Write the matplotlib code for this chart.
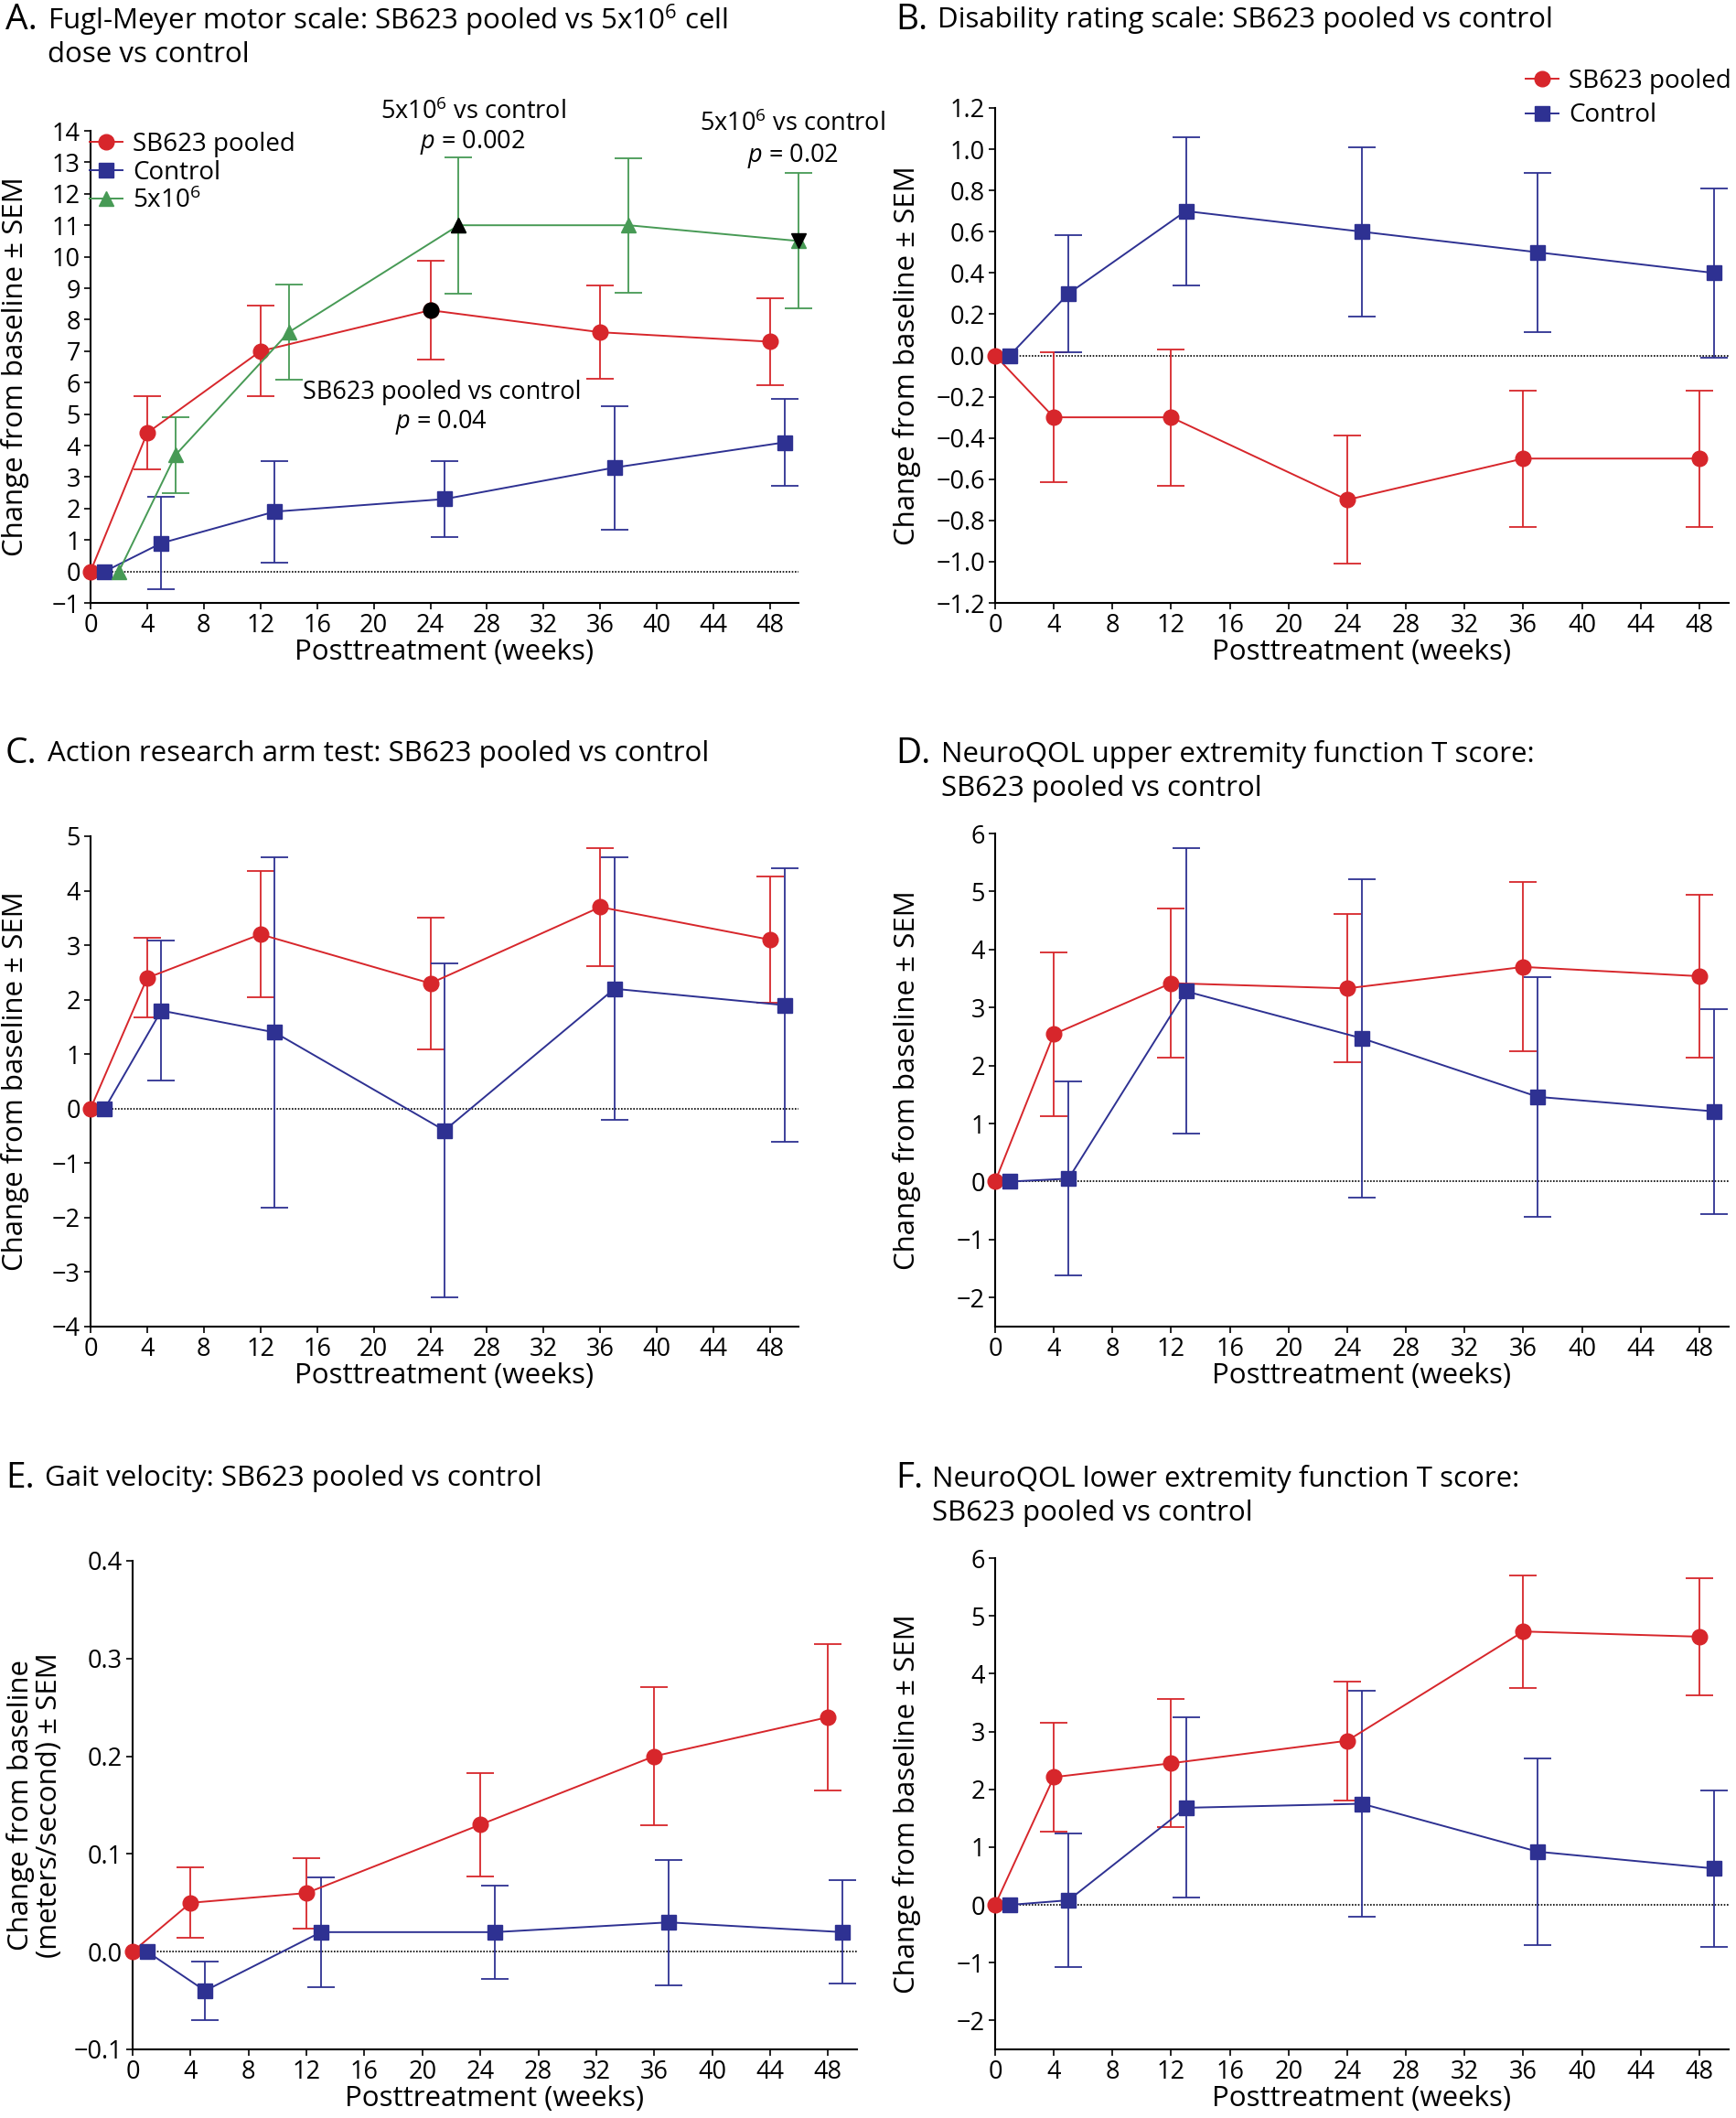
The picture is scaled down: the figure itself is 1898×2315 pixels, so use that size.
import matplotlib
matplotlib.use("Agg")
import matplotlib.pyplot as plt
import numpy as np

plt.rcParams['font.family'] = ['Open Sans', 'DejaVu Sans']
plt.rcParams['mathtext.fontset'] = 'custom'
plt.rcParams['mathtext.rm'] = 'Open Sans'
plt.rcParams['mathtext.it'] = 'Open Sans:italic'

RED = '#d7262b'
BLUE = '#2e3192'
GREEN = '#479a55'

# weeks (control and 5x10^6 are drawn slightly offset)
weeks_sb = [0, 4, 12, 24, 36, 48]
weeks_ctrl = [1, 5, 13, 25, 37, 49]
weeks_5x = [2, 6, 14, 26, 38, 50]

# A. Fugl-Meyer
fm_sb = [0, 4.4, 7.0, 8.3, 7.6, 7.3]
fm_sb_sem = [0, 1.16, 1.44, 1.56, 1.48, 1.39]
fm_ctrl = [0, 0.9, 1.9, 2.3, 3.3, 4.1]
fm_ctrl_sem = [0, 1.47, 1.62, 1.21, 1.96, 1.37]
fm_5x = [0, 3.7, 7.6, 11.0, 11.0, 10.5]
fm_5x_sem = [0, 1.2, 1.52, 2.17, 2.14, 2.15]

# B. Disability rating scale
drs_sb = [0, -0.3, -0.3, -0.7, -0.5, -0.5]
drs_sb_sem = [0, 0.315, 0.33, 0.31, 0.33, 0.33]
drs_ctrl = [0, 0.3, 0.7, 0.6, 0.5, 0.4]
drs_ctrl_sem = [0, 0.285, 0.36, 0.41, 0.385, 0.41]
drs_ticks = [-1.2, -1.0, -0.8, -0.6, -0.4, -0.2, 0.0, 0.2, 0.4, 0.6, 0.8, 1.0, 1.2]

# C. Action research arm test
arat_sb = [0, 2.4, 3.2, 2.3, 3.7, 3.1]
arat_sb_sem = [0, 0.73, 1.16, 1.21, 1.08, 1.16]
arat_ctrl = [0, 1.8, 1.4, -0.4, 2.2, 1.9]
arat_ctrl_sem = [0, 1.28, 3.21, 3.07, 2.41, 2.51]

# D. NeuroQOL upper extremity
ue_sb = [0, 2.54, 3.42, 3.33, 3.70, 3.54]
ue_sb_sem = [0, 1.41, 1.29, 1.28, 1.46, 1.41]
ue_ctrl = [0, 0.05, 3.28, 2.47, 1.46, 1.21]
ue_ctrl_sem = [0, 1.67, 2.46, 2.74, 2.07, 1.77]

# E. Gait velocity
gv_sb = [0, 0.05, 0.06, 0.13, 0.20, 0.24]
gv_sb_sem = [0, 0.036, 0.036, 0.053, 0.071, 0.075]
gv_ctrl = [0, -0.04, 0.02, 0.02, 0.03, 0.02]
gv_ctrl_sem = [0, 0.0296, 0.056, 0.048, 0.064, 0.053]
gv_ticks = [-0.1, 0.0, 0.1, 0.2, 0.3, 0.4]

# F. NeuroQOL lower extremity
le_sb = [0, 2.21, 2.45, 2.84, 4.73, 4.64]
le_sb_sem = [0, 0.94, 1.105, 1.03, 0.97, 1.01]
le_ctrl = [0, 0.08, 1.68, 1.75, 0.92, 0.63]
le_ctrl_sem = [0, 1.16, 1.56, 1.95, 1.61, 1.35]

W, H = 1899, 2315
fig = plt.figure(figsize=(W / 100, H / 100), dpi=100)
LAB = 22.5
TICK = 19.5


def px_axes(l, t, r, b):
    return fig.add_axes([l / W, 1 - b / H, (r - l) / W, (b - t) / H])


def series(ax, x, y, sem, color, marker, ms=12):
    x = np.array(x)
    y = np.array(y)
    sem = np.array(sem)
    m = sem > 0
    eb = ax.errorbar(x[m], y[m], yerr=sem[m], fmt='none', ecolor=color,
                     elinewidth=1.3, capsize=11, capthick=1.3, zorder=2)
    for art in eb.lines[1] + eb.lines[2]:
        art.set_clip_on(False)
    line, = ax.plot(x, y, '-', color=color, lw=1.4, marker=marker,
                    ms=ms, mec=color, mfc=color, zorder=3, clip_on=False)
    return line


def style(ax, ylim, yticks, ylabel, fmt=None, label_x=-0.087):
    ax.set_xlim(0, 50)
    ax.set_ylim(*ylim)
    ax.set_xticks(range(0, 49, 4))
    ax.set_yticks(yticks)
    if fmt:
        ax.set_yticklabels([fmt.format(v + 0.0).replace('-', '\u2212') for v in yticks])
    for s in ['top', 'right']:
        ax.spines[s].set_visible(False)
    for s in ['left', 'bottom']:
        ax.spines[s].set_linewidth(1.5)
    ax.tick_params(direction='out', length=5, width=1.2, labelsize=TICK, pad=3)
    ax.axhline(0, color='black', ls=(0, (1, 1)), lw=1.2, zorder=1)
    ax.set_xlabel('Posttreatment (weeks)', fontsize=LAB, labelpad=0)
    ax.set_ylabel(ylabel, fontsize=LAB)
    ax.yaxis.set_label_coords(label_x, 0.5)


def title(x, y, letter, lines, dx):
    fig.text(x / W, 1 - y / H, letter, fontsize=28, va='center', ha='left')
    for i, t in enumerate(lines):
        fig.text((x + dx) / W, 1 - (y + i * 38) / H, t, fontsize=22.5,
                 va='center', ha='left')


ylab = 'Change from baseline \u00b1 SEM'

# ---- A
axA = px_axes(99, 143, 873, 659)
lA1 = series(axA, weeks_sb, fm_sb, fm_sb_sem, RED, 'o')
lA2 = series(axA, weeks_ctrl, fm_ctrl, fm_ctrl_sem, BLUE, 's', 11)
lA3 = series(axA, weeks_5x, fm_5x, fm_5x_sem, GREEN, '^', 12)
axA.plot(weeks_sb[3], fm_sb[3], 'o', color='black', ms=12, zorder=4)
axA.plot(weeks_5x[3], fm_5x[3], '^', color='black', ms=12, zorder=4, clip_on=False)
axA.plot(weeks_5x[5], fm_5x[5], 'v', color='black', ms=12, zorder=4, clip_on=False)
style(axA, (-1, 14), range(-1, 15), ylab)
axA.legend([lA1, lA2, lA3], ['SB623 pooled', 'Control', '5x10$^6$'],
           loc='upper left', bbox_to_anchor=(-0.016, 1.02), frameon=False,
           fontsize=20, handlelength=1.3, handletextpad=0.4,
           labelspacing=0.1, borderaxespad=0)
axA.text(27, 14.6, '5x10$^6$ vs control', fontsize=19.5, ha='center',
         va='center', clip_on=False)
axA.text(27, 13.65, '$p$ = 0.002', fontsize=19.5, ha='center', va='center',
         clip_on=False)
axA.text(49.6, 14.2, '5x10$^6$ vs control', fontsize=19.5, ha='center',
         va='center', clip_on=False)
axA.text(49.6, 13.2, '$p$ = 0.02', fontsize=19.5, ha='center', va='center',
         clip_on=False)
axA.text(24.8, 5.7, 'SB623 pooled vs control', fontsize=19.5, ha='center',
         va='center')
axA.text(24.8, 4.75, '$p$ = 0.04', fontsize=19.5, ha='center', va='center')
title(6, 22, 'A.', ['Fugl-Meyer motor scale: SB623 pooled vs 5x10$^6$ cell',
                    'dose vs control'], 46)

# ---- B
axB = px_axes(1088, 118, 1890, 659)
lB1 = series(axB, weeks_sb, drs_sb, drs_sb_sem, RED, 'o')
lB2 = series(axB, weeks_ctrl, drs_ctrl, drs_ctrl_sem, BLUE, 's', 11)
style(axB, (-1.2, 1.2), drs_ticks, ylab, fmt='{:.1f}', label_x=-0.101)
fig.legend([lB1, lB2], ['SB623 pooled', 'Control'], loc='upper left',
           bbox_to_anchor=(1657 / W, 1 - 64 / H), frameon=False,
           fontsize=20, handlelength=1.3, handletextpad=0.4,
           labelspacing=0.33, borderaxespad=0)
title(979, 22, 'B.', ['Disability rating scale: SB623 pooled vs control'], 46)

# ---- C
axC = px_axes(99, 914, 873, 1450)
series(axC, weeks_sb, arat_sb, arat_sb_sem, RED, 'o')
series(axC, weeks_ctrl, arat_ctrl, arat_ctrl_sem, BLUE, 's', 11)
style(axC, (-4, 5), range(-4, 6), ylab)
title(6, 824, 'C.', ['Action research arm test: SB623 pooled vs control'], 46)

# ---- D
axD = px_axes(1088, 911, 1890, 1450)
series(axD, weeks_sb, ue_sb, ue_sb_sem, RED, 'o')
series(axD, weeks_ctrl, ue_ctrl, ue_ctrl_sem, BLUE, 's', 11)
style(axD, (-2.5, 6), range(-2, 7), ylab, label_x=-0.101)
title(979, 824, 'D.', ['NeuroQOL upper extremity function T score:',
                       'SB623 pooled vs control'], 50)

# ---- E
axE = px_axes(145, 1706, 937, 2240)
series(axE, weeks_sb, gv_sb, gv_sb_sem, RED, 'o')
series(axE, weeks_ctrl, gv_ctrl, gv_ctrl_sem, BLUE, 's', 11)
style(axE, (-0.1, 0.4), gv_ticks,
      'Change from baseline\n(meters/second) \u00b1 SEM', fmt='{:.1f}',
      label_x=-0.096)
axE.yaxis.label.set_linespacing(1.05)
title(6, 1616, 'E.', ['Gait velocity: SB623 pooled vs control'], 43)

# ---- F
axF = px_axes(1088, 1703, 1890, 2240)
series(axF, weeks_sb, le_sb, le_sb_sem, RED, 'o')
series(axF, weeks_ctrl, le_ctrl, le_ctrl_sem, BLUE, 's', 11)
style(axF, (-2.5, 6), range(-2, 7), ylab, label_x=-0.101)
title(979, 1616, 'F.', ['NeuroQOL lower extremity function T score:',
                        'SB623 pooled vs control'], 40)

fig.savefig('out.png', dpi=100, facecolor='white')
